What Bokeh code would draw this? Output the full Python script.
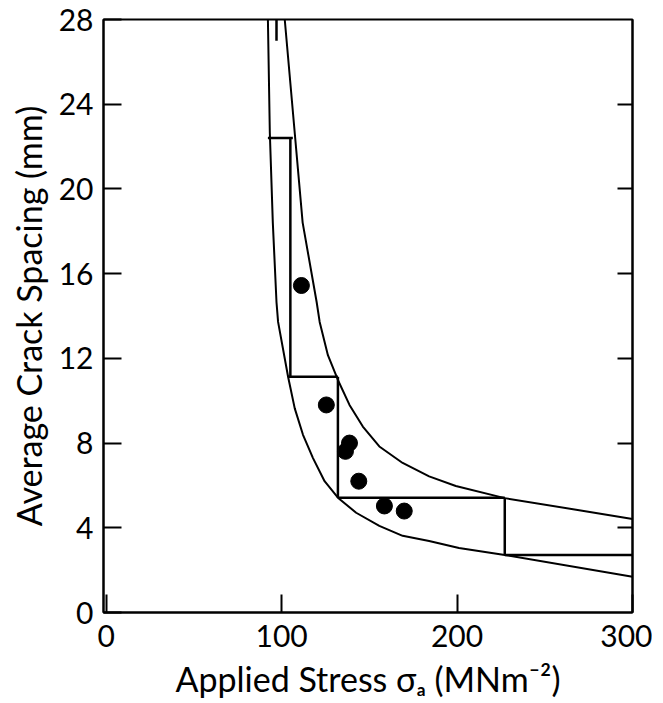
from bokeh.plotting import figure
from bokeh.models import LinearAxis, FixedTicker, Range1d, ColumnDataSource
from bokeh.embed import file_html
from bokeh.resources import INLINE

# ---- data ----
# upper bound curve: applied stress (MN m^-2) vs crack spacing (mm)
upper_stress = [101.8, 107.5, 112.0, 120.0, 121.7, 126.4, 132.1, 138.7, 146.3,
                155.7, 169.0, 184.1, 199.3, 227.2, 300.0]
upper_spacing = [28.0, 22.64, 18.41, 14.65, 13.72, 12.15, 10.98, 9.80, 8.78,
                 7.84, 7.06, 6.43, 5.97, 5.40, 4.42]

# lower bound curve
lower_stress = [92.2, 93.3, 95.0, 97.1, 98.0, 103.7, 107.5, 112.2, 117.9, 124.5,
                132.1, 142.5, 155.7, 169.0, 184.1, 201.1, 227.2, 300.0]
lower_spacing = [28.0, 22.64, 18.41, 14.65, 13.72, 11.13, 9.64, 8.39, 7.29, 6.20,
                 5.42, 4.71, 4.09, 3.62, 3.38, 3.05, 2.72, 1.69]

# stepwise (staircase) prediction, as segments
step_x0 = [92.2, 105.0, 103.7, 132.1, 132.1, 227.2, 227.2, 97.1]
step_y0 = [22.40, 22.40, 11.13, 11.13, 5.42, 5.42, 2.72, 28.0]
step_x1 = [106.4, 105.0, 132.1, 132.1, 227.2, 227.2, 300.0, 97.1]
step_y1 = [22.40, 11.13, 11.13, 5.42, 5.42, 2.72, 2.72, 27.0]

# measured points
meas_stress = [111.3, 125.5, 138.7, 136.4, 144.0, 158.6, 169.9]
meas_spacing = [15.44, 9.80, 8.00, 7.61, 6.20, 5.03, 4.79]

x_ticks = [0, 100, 200, 300]
y_ticks = [0, 4, 8, 12, 16, 20, 24, 28]
right_ticks = [4, 8, 12, 16, 20, 24]

FONT = "Lato"
TICK_SIZE = "30px"
LABEL_SIZE = "34px"

p = figure(frame_width=529, frame_height=593,
           x_range=Range1d(-1.5, 300), y_range=Range1d(0, 28),
           output_backend="svg", toolbar_location=None,
           min_border_left=103, min_border_top=19, min_border_right=20,
           min_border_bottom=86,
           x_axis_label="Applied Stress σₐ (MNm⁻²)",
           y_axis_label="Average Crack Spacing (mm)")

p.grid.visible = False
p.background_fill_color = "white"
p.border_fill_color = "white"
p.outline_line_color = "black"
p.outline_line_width = 2

p.xaxis.ticker = FixedTicker(ticks=x_ticks)
p.yaxis.ticker = FixedTicker(ticks=y_ticks)
for ax in (p.xaxis[0], p.yaxis[0]):
    ax.major_tick_in = 18
    ax.major_tick_out = 0
    ax.minor_tick_line_color = None
    ax.major_tick_line_width = 2
    ax.axis_line_width = 2
    ax.axis_line_color = "black"
    ax.major_tick_line_color = "black"
    ax.major_label_text_font = FONT
    ax.major_label_text_font_size = TICK_SIZE
    ax.major_label_text_color = "black"
    ax.axis_label_text_font = FONT
    ax.axis_label_text_font_size = LABEL_SIZE
    ax.axis_label_text_font_style = "normal"
    ax.axis_label_text_color = "black"
p.yaxis.major_label_standoff = 10
p.xaxis.major_label_standoff = 12
p.yaxis.axis_label_standoff = 7
p.xaxis.axis_label_standoff = 8

# right-hand axis: inward ticks only, labels not drawn
right = LinearAxis(ticker=FixedTicker(ticks=right_ticks))
right.major_tick_in = 15
right.major_tick_out = 0
right.minor_tick_line_color = None
right.major_tick_line_width = 2
right.axis_line_width = 2
right.major_label_text_font_size = "1px"
right.major_label_text_color = None
p.add_layout(right, "right")

p.line(upper_stress, upper_spacing, line_color="black", line_width=2)
p.line(lower_stress, lower_spacing, line_color="black", line_width=2)

src = ColumnDataSource(dict(x0=step_x0, y0=step_y0, x1=step_x1, y1=step_y1))
p.segment(x0="x0", y0="y0", x1="x1", y1="y1", source=src,
          line_color="black", line_width=2.5)

p.scatter(meas_stress, meas_spacing, marker="circle", size=16,
          fill_color="black", line_color="black")

open("out.html", "w").write(file_html(p, INLINE))
